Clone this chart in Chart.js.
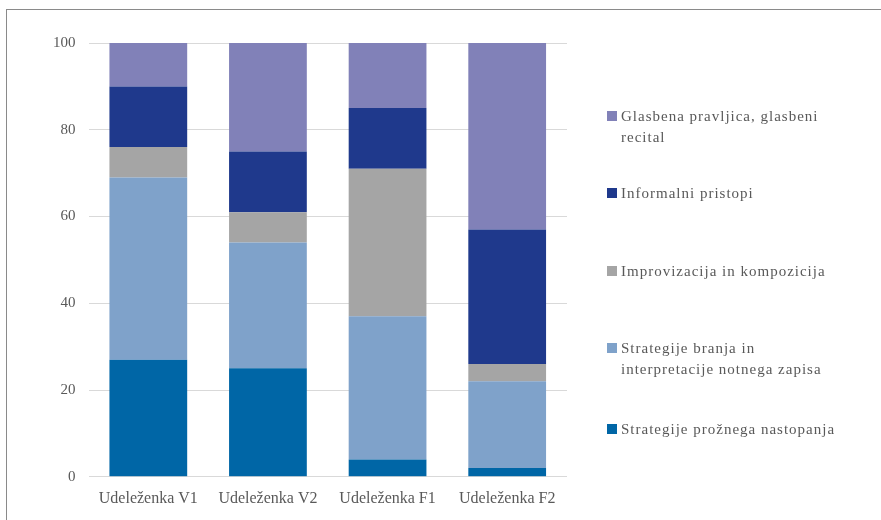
<!DOCTYPE html>
<html>
<head>
<meta charset="utf-8">
<script src="https://cdn.jsdelivr.net/npm/chart.js@4.4.0/dist/chart.umd.min.js"></script>
<style>
    html, body { margin: 0; padding: 0; background: #fff; }
    .wrap { position: relative; width: 881px; height: 520px; }
    .frame {
        position: absolute; left: 6px; top: 9px; right: -2px; bottom: -2px;
        border-top: 1px solid #8a8a8a; border-left: 1px solid #8a8a8a;
    }
    canvas { position: absolute; left: 0; top: 0; }
    .legend { position: absolute; left: 607px; top: 0; font-family: "Liberation Serif", serif; font-size: 15px; color: #595959; letter-spacing: 1px; }
    .legend .item { position: absolute; left: 0; width: 270px; }
    .legend .box { position: absolute; left: 0; top: 5px; width: 10px; height: 10px; }
    .legend .txt { margin-left: 14px; line-height: 21px; }
</style>
</head>
<body>
<div class="wrap">
    <div class="frame"></div>
    <canvas id="myBarChart" width="881" height="520"></canvas>
    <div class="legend" id="legend"></div>
</div>
<script>
// Podatki (odstotki)
const categories = ['Udeleženka V1', 'Udeleženka V2', 'Udeleženka F1', 'Udeleženka F2'];
const seriesNames = [
    'Strategije prožnega nastopanja',
    'Strategije branja in interpretacije notnega zapisa',
    'Improvizacija in kompozicija',
    'Informalni pristopi',
    'Glasbena pravljica, glasbeni recital'
];
const prozno = [27, 25, 4, 2];
const branje = [42, 29, 33, 20];
const improvizacija = [7, 7, 34, 4];
const informalno = [14, 14, 14, 31];
const pravljica = [10, 25, 15, 43];
const yTicks = [0, 20, 40, 60, 80, 100];

const colors = ['#0066a6', '#7fa2ca', '#a5a5a5', '#1f398c', '#8181b8'];
// legenda: vrstice besedila in pozicija (od zgoraj navzdol)
const legendLines = [
    ['Glasbena pravljica, glasbeni', 'recital'],
    ['Informalni pristopi'],
    ['Improvizacija in kompozicija'],
    ['Strategije branja in', 'interpretacije notnega zapisa'],
    ['Strategije prožnega nastopanja']
];
const legendTops = [106, 183, 261, 338, 419];

const values = [prozno, branje, improvizacija, informalno, pravljica];

const ctxBar = document.getElementById('myBarChart').getContext('2d');
new Chart(ctxBar, {
    type: 'bar',
    data: {
        labels: categories,
        datasets: values.map(function(v, i) {
            return {
                label: seriesNames[i],
                data: v,
                backgroundColor: colors[i],
                borderWidth: 0,
                barPercentage: 0.65,
                categoryPercentage: 1.0
            };
        })
    },
    options: {
        responsive: false,
        animation: false,
        layout: { padding: { left: 40, right: 314, top: 43, bottom: 8 } },
        plugins: { legend: { display: false }, tooltip: { enabled: false } },
        scales: {
            x: {
                stacked: true,
                grid: { display: false },
                border: { display: false },
                ticks: { color: '#595959', font: { family: 'Liberation Serif', size: 16 }, padding: 4 }
            },
            y: {
                stacked: true,
                min: 0,
                max: 100,
                afterBuildTicks: function(axis) {
                    axis.ticks = yTicks.map(function(t) { return { value: t }; });
                },
                grid: { color: '#d9d9d9', lineWidth: 1, drawTicks: false },
                border: { display: false },
                ticks: { color: '#595959', font: { family: 'Liberation Serif', size: 15 }, padding: 13 }
            }
        }
    }
});

// HTML legenda
const legend = document.getElementById('legend');
legendLines.forEach(function(lines, i) {
    const item = document.createElement('div');
    item.className = 'item';
    item.style.top = legendTops[i] + 'px';
    item.innerHTML = '<div class="box" style="background:' + colors[4 - i] + '"></div><div class="txt">' + lines.join('<br>') + '</div>';
    legend.appendChild(item);
});
</script>
</body>
</html>
